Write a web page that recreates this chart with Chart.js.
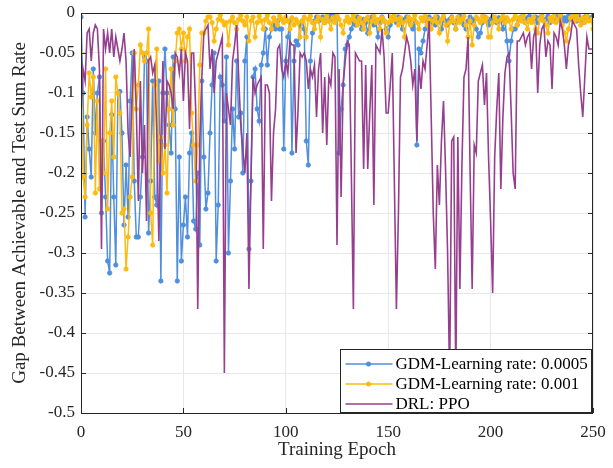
<!DOCTYPE html>
<html>
<head>
<meta charset="utf-8">
<title>Gap vs training epoch</title>
<script src="https://cdn.jsdelivr.net/npm/chart.js@4.4.1/dist/chart.umd.min.js"></script>
<style>
  html, body { margin: 0; padding: 0; background: #fff; }
  canvas { display: block; }
</style>
</head>
<body>
<canvas id="gapChart" width="613" height="468"></canvas>
<script>
// epochs 0..250
const epochs = Array.from({ length: 251 }, (_, i) => i);

const xTicks = [0, 50, 100, 150, 200, 250];
const yTicks = [0, -0.05, -0.1, -0.15, -0.2, -0.25, -0.3, -0.35, -0.4, -0.45, -0.5];

const seriesNames = ["GDM-Learning rate: 0.0005", "GDM-Learning rate: 0.001", "DRL: PPO"];

// GDM, learning rate 0.0005
const gdmLr0005 = [
  -0.005, -0.10, -0.255, -0.13, -0.17, -0.205, -0.07, -0.15, -0.10, -0.08,
  -0.25, -0.16, -0.23, -0.31, -0.325, -0.127, -0.23, -0.315, -0.10, -0.098,
  -0.15, -0.265, -0.19, -0.255, -0.11, -0.05, -0.21, -0.28, -0.28, -0.23,
  -0.18, -0.055, -0.06, -0.275, -0.21, -0.085, -0.23, -0.24, -0.085, -0.335,
  -0.10, -0.045, -0.10, -0.14, -0.175, -0.055, -0.12, -0.335, -0.18, -0.31,
  -0.265, -0.23, -0.28, -0.175, -0.15, -0.26, -0.27, -0.20, -0.29, -0.085,
  -0.18, -0.245, -0.225, -0.15, -0.09, -0.05, -0.31, -0.24, -0.08, -0.09,
  -0.135, -0.055, -0.30, -0.21, -0.12, -0.17, -0.06, -0.13, -0.125, -0.20,
  -0.06, -0.03, -0.295, -0.21, -0.08, -0.07, -0.12, -0.135, -0.065, -0.05,
  -0.02, -0.065, -0.03, -0.02, -0.015, -0.02, -0.01, -0.02, -0.02, -0.17,
  -0.06, -0.03, -0.01, -0.175, -0.06, -0.035, -0.04, -0.015, -0.01, -0.02,
  -0.16, -0.19, -0.06, -0.025, -0.01, -0.005, -0.01, -0.008, -0.005, -0.012,
  -0.005, -0.01, -0.003, -0.008, -0.002, -0.005, -0.175, -0.12, -0.09, -0.045,
  -0.04, -0.03, -0.02, -0.01, -0.015, -0.005, -0.01, -0.02, -0.008, -0.012,
  -0.025, -0.01, -0.005, -0.015, -0.01, -0.03, -0.012, -0.005, -0.01, -0.02,
  -0.03, -0.015, -0.008, -0.004, -0.012, -0.005, -0.01, -0.02, -0.008, -0.005,
  -0.01, -0.015, -0.02, -0.01, -0.165, -0.045, -0.05, -0.035, -0.02, -0.01,
  -0.005, -0.012, -0.008, -0.015, -0.005, -0.01, -0.02, -0.006, -0.01, -0.015,
  -0.008, -0.005, -0.012, -0.02, -0.008, -0.004, -0.01, -0.015, -0.02, -0.01,
  -0.005, -0.012, -0.008, -0.02, -0.03, -0.025, -0.012, -0.005, -0.01, -0.015,
  -0.008, -0.005, -0.01, -0.012, -0.006, -0.01, -0.02, -0.008, -0.035, -0.06,
  -0.035, -0.02, -0.02, -0.015, -0.008, -0.005, -0.01, -0.012, -0.006, -0.004,
  -0.01, -0.008, -0.005, -0.012, -0.006, -0.003, -0.01, -0.008, -0.004, -0.012,
  -0.006, -0.01, -0.004, -0.008, -0.003, -0.012, -0.006, -0.01, -0.004, -0.008,
  -0.003, -0.006, -0.01, -0.004, -0.008, -0.012, -0.005, -0.003, -0.008, -0.006,
  -0.004
];

// GDM, learning rate 0.001
const gdmLr001 = [
  -0.05, -0.205, -0.23, -0.14, -0.075, -0.105, -0.08, -0.225, -0.11, -0.22,
  -0.16, -0.20, -0.07, -0.245, -0.15, -0.11, -0.18, -0.08, -0.10, -0.125,
  -0.25, -0.245, -0.32, -0.28, -0.23, -0.205, -0.05, -0.12, -0.09, -0.04,
  -0.05, -0.06, -0.05, -0.02, -0.25, -0.29, -0.09, -0.045, -0.185, -0.155,
  -0.20, -0.165, -0.225, -0.12, -0.07, -0.14, -0.06, -0.025, -0.02, -0.045,
  -0.025, -0.06, -0.03, -0.02, -0.125, -0.165, -0.21, -0.165, -0.065, -0.025,
  -0.025, -0.01, -0.005, -0.005, -0.012, -0.035, -0.02, -0.008, -0.003, -0.01,
  -0.015, -0.012, -0.04, -0.01, -0.005, -0.012, -0.02, -0.008, -0.003, -0.01,
  -0.015, -0.005, -0.035, -0.01, -0.005, -0.03, -0.012, -0.004, -0.01, -0.02,
  -0.008, -0.003, -0.012, -0.02, -0.006, -0.01, -0.015, -0.004, -0.008, -0.012,
  -0.005, -0.01, -0.02, -0.006, -0.015, -0.008, -0.012, -0.03, -0.01, -0.005,
  -0.03, -0.008, -0.004, -0.012, -0.02, -0.01, -0.005, -0.03, -0.008, -0.012,
  -0.004, -0.01, -0.02, -0.006, -0.012, -0.003, -0.008, -0.015, -0.025, -0.01,
  -0.005, -0.012, -0.008, -0.003, -0.01, -0.015, -0.006, -0.012, -0.02, -0.008,
  -0.005, -0.025, -0.01, -0.004, -0.012, -0.008, -0.02, -0.006, -0.01, -0.025,
  -0.012, -0.005, -0.01, -0.003, -0.008, -0.015, -0.006, -0.012, -0.03, -0.01,
  -0.005, -0.015, -0.008, -0.003, -0.012, -0.02, -0.006, -0.01, -0.004, -0.015,
  -0.008, -0.02, -0.01, -0.005, -0.012, -0.025, -0.008, -0.004, -0.015, -0.035,
  -0.012, -0.006, -0.01, -0.02, -0.005, -0.012, -0.008, -0.004, -0.015, -0.03,
  -0.01, -0.04, -0.015, -0.005, -0.008, -0.012, -0.004, -0.01, -0.006, -0.03,
  -0.03, -0.012, -0.005, -0.01, -0.02, -0.008, -0.004, -0.012, -0.006, -0.01,
  -0.02, -0.008, -0.004, -0.015, -0.006, -0.01, -0.003, -0.012, -0.02, -0.008,
  -0.012, -0.005, -0.02, -0.025, -0.008, -0.004, -0.01, -0.015, -0.025, -0.006,
  -0.01, -0.004, -0.012, -0.008, -0.003, -0.015, -0.025, -0.035, -0.02, -0.006,
  -0.004, -0.01, -0.003, -0.008, -0.015, -0.006, -0.012, -0.004, -0.01, -0.008,
  -0.02
];

// DRL baseline (PPO)
const drlPpo = [
  -0.13, -0.07, -0.085, -0.025, -0.02, -0.06, -0.025, -0.015, -0.02, -0.07,
  -0.295, -0.02, -0.045, -0.025, -0.05, -0.02, -0.055, -0.03, -0.045, -0.06,
  -0.045, -0.025, -0.06, -0.15, -0.18, -0.10, -0.045, -0.12, -0.235, -0.085,
  -0.20, -0.14, -0.26, -0.06, -0.055, -0.075, -0.065, -0.15, -0.285, -0.16,
  -0.06, -0.17, -0.085, -0.09, -0.10, -0.12, -0.05, -0.055, -0.075, -0.045,
  -0.11, -0.05, -0.06, -0.145, -0.05, -0.05, -0.12, -0.37, -0.16, -0.08,
  -0.025, -0.02, -0.015, -0.07, -0.045, -0.10, -0.06, -0.05, -0.04, -0.03,
  -0.45, -0.10, -0.12, -0.14, -0.06, -0.04, -0.015, -0.08, -0.14, -0.17,
  -0.20, -0.15, -0.345, -0.205, -0.08, -0.10, -0.09, -0.085, -0.08, -0.295,
  -0.09, -0.09, -0.10, -0.235, -0.15, -0.12, -0.045, -0.04, -0.07, -0.08,
  -0.06, -0.075, -0.035, -0.04, -0.04, -0.175, -0.12, -0.05, -0.055, -0.05,
  -0.06, -0.095, -0.07, -0.08, -0.065, -0.13, -0.07, -0.05, -0.15, -0.08,
  -0.165, -0.08, -0.09, -0.05, -0.055, -0.29, -0.07, -0.23, -0.09, -0.06,
  -0.035, -0.04, -0.20, -0.37, -0.05, -0.055, -0.06, -0.06, -0.195, -0.065,
  -0.195, -0.125, -0.065, -0.24, -0.04, -0.045, -0.05, -0.02, -0.055, -0.125,
  -0.125, -0.09, -0.05, -0.21, -0.37, -0.25, -0.08, -0.07, -0.05, -0.03,
  -0.04, -0.06, -0.09, -0.07, -0.16, -0.065, -0.095, -0.06, -0.07, -0.04,
  -0.01, -0.13, -0.25, -0.32, -0.19, -0.24, -0.16, -0.11, -0.195, -0.30,
  -0.46, -0.16, -0.155, -0.46, -0.155, -0.345, -0.19, -0.08, -0.07, -0.03,
  -0.20, -0.345, -0.165, -0.175, -0.085, -0.075, -0.065, -0.115, -0.075, -0.18,
  -0.26, -0.35, -0.18, -0.12, -0.075, -0.22, -0.13, -0.075, -0.055, -0.05,
  -0.12, -0.20, -0.22, -0.035, -0.035, -0.03, -0.025, -0.04, -0.03, -0.025,
  -0.07, -0.03, -0.02, -0.10, -0.04, -0.02, -0.015, -0.055, -0.035, -0.04,
  -0.095, -0.025, -0.03, -0.04, -0.01, -0.02, -0.04, -0.07, -0.04, -0.03,
  -0.01, -0.015, -0.02, -0.065, -0.10, -0.13, -0.08, -0.03, -0.045, -0.045,
  -0.045
];

const colors = ["#4f8fdc", "#fdbb12", "#963f8e"];
const serif = "'Liberation Serif', 'Times New Roman', serif";
const ink = "#262626";

// plot box in canvas pixels
const plotBox = { left: 81, top: 13, right: 593, bottom: 413 };

// box outline, inward tick marks and the legend panel in the lower right
const matlabFrame = {
  id: "matlabFrame",
  afterDraw(chart) {
    const { ctx, chartArea: a, scales: { x, y } } = chart;
    ctx.save();
    ctx.strokeStyle = ink;
    ctx.lineWidth = 1;
    ctx.beginPath();
    xTicks.forEach(v => {
      const px = Math.round(x.getPixelForValue(v)) + 0.5;
      ctx.moveTo(px, a.bottom); ctx.lineTo(px, a.bottom - 5);
      ctx.moveTo(px, a.top); ctx.lineTo(px, a.top + 5);
    });
    yTicks.forEach(v => {
      const py = Math.round(y.getPixelForValue(v)) + 0.5;
      ctx.moveTo(a.left, py); ctx.lineTo(a.left + 5, py);
      ctx.moveTo(a.right, py); ctx.lineTo(a.right - 5, py);
    });
    ctx.stroke();
    ctx.strokeRect(Math.round(a.left) + 0.5, Math.round(a.top) + 0.5,
                   Math.round(a.width) - 1, Math.round(a.height));

    // legend
    const bx = Math.round(a.right) - 252.5, by = Math.round(a.bottom) - 63.5;
    ctx.fillStyle = "#fff";
    ctx.fillRect(bx, by, 251, 63);
    ctx.strokeRect(bx, by, 251, 63);
    ctx.font = "17px " + serif;
    ctx.textBaseline = "middle";
    seriesNames.forEach((name, i) => {
      const ry = by + 14.5 + i * 20;
      ctx.strokeStyle = colors[i];
      ctx.lineWidth = 1.5;
      ctx.beginPath();
      ctx.moveTo(bx + 5, ry); ctx.lineTo(bx + 52, ry);
      ctx.stroke();
      if (i < 2) {
        ctx.fillStyle = colors[i];
        ctx.beginPath();
        ctx.arc(bx + 28, ry, 2.5, 0, Math.PI * 2);
        ctx.fill();
      }
      ctx.fillStyle = "#000";
      ctx.fillText(name, bx + 55, ry + 1);
    });
    ctx.restore();
  }
};

new Chart(document.getElementById("gapChart"), {
  type: "line",
  data: {
    labels: epochs,
    datasets: [
      {
        label: seriesNames[0], data: gdmLr0005, order: 3,
        borderColor: colors[0], backgroundColor: colors[0], borderWidth: 1.5,
        pointRadius: 2.2, pointBorderWidth: 0.8, pointBorderColor: colors[0]
      },
      {
        label: seriesNames[1], data: gdmLr001, order: 2,
        borderColor: colors[1], backgroundColor: colors[1], borderWidth: 1.5,
        pointRadius: 2.2, pointBorderWidth: 0.8, pointBorderColor: colors[1]
      },
      {
        label: seriesNames[2], data: drlPpo, order: 1,
        borderColor: colors[2], backgroundColor: colors[2], borderWidth: 1.6,
        pointRadius: 0
      }
    ]
  },
  options: {
    responsive: false,
    animation: false,
    layout: { padding: { top: 13, right: 20, left: 0, bottom: 0 } },
    elements: { line: { tension: 0 } },
    plugins: { legend: { display: false }, tooltip: { enabled: false } },
    scales: {
      x: {
        type: "linear", min: 0, max: 250,
        afterFit: s => { s.height = 55; },
        afterBuildTicks: s => { s.ticks = xTicks.map(v => ({ value: v })); },
        grid: { color: "#e8e8e8", drawTicks: false },
        border: { display: false },
        ticks: { padding: 9, color: ink, maxRotation: 0, font: { family: serif, size: 17 } },
        title: {
          display: true, text: "Training Epoch", color: ink,
          font: { family: serif, size: 19 }, padding: { top: 0, bottom: 7 }
        }
      },
      y: {
        type: "linear", min: -0.5, max: 0,
        afterFit: s => { s.width = 81; },
        afterBuildTicks: s => { s.ticks = yTicks.map(v => ({ value: v })); },
        grid: { color: "#e8e8e8", drawTicks: false },
        border: { display: false },
        ticks: {
          padding: 6, color: ink, font: { family: serif, size: 17 },
          callback: v => String(Math.round(v * 100) / 100)
        },
        title: {
          display: true, text: "Gap Between Achievable and Test Sum Rate", color: ink,
          font: { family: serif, size: 19 }, padding: { top: 9, bottom: 0 }
        }
      }
    }
  },
  plugins: [matlabFrame, {
    // pin the plot area so the frame sits at fixed canvas pixels
    id: "pinArea",
    afterLayout(chart) {
      const a = chart.chartArea;
      Object.assign(a, plotBox);
      a.width = plotBox.right - plotBox.left;
      a.height = plotBox.bottom - plotBox.top;
      const { x, y } = chart.scales;
      x.left = plotBox.left; x.right = plotBox.right; x.width = a.width;
      x.top = plotBox.bottom; x.bottom = 468; x.height = 468 - plotBox.bottom;
      y.top = plotBox.top; y.bottom = plotBox.bottom; y.height = a.height;
      y.left = 0; y.right = plotBox.left; y.width = plotBox.left;
      x.configure(); y.configure();
    }
  }]
});
</script>
</body>
</html>
